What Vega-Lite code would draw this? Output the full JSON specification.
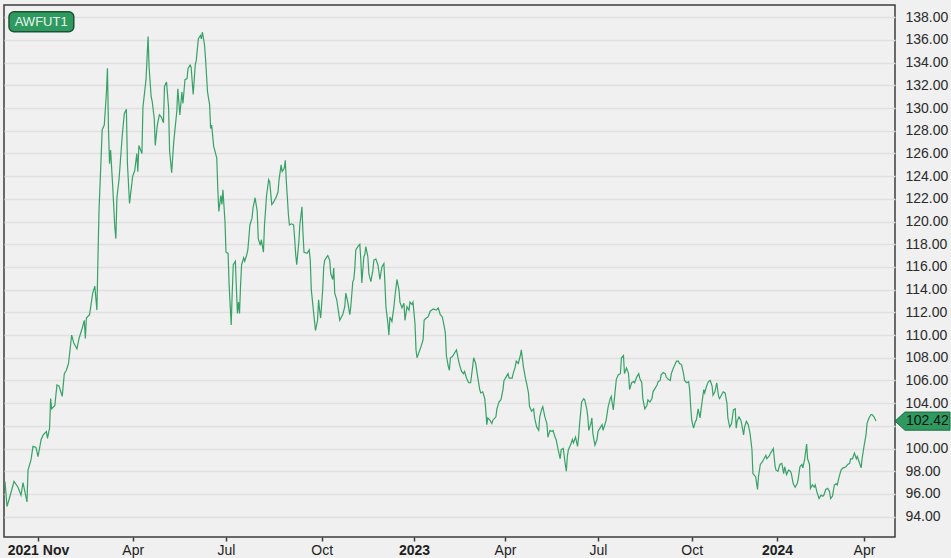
{
"$schema": "https://vega.github.io/schema/vega-lite/v6.json",
"width": 891, "height": 532,
"autosize": {"type": "none"},
"padding": {"left": 4, "top": 5, "right": 56, "bottom": 21},
"background": "#f0f0f0",
"config": {"view": {"stroke": "#3c3c3c", "strokeWidth": 1.5, "fill": "#f0f0f0"}, "font": "Liberation Sans"},
"datasets": {"prices": [
{"date":"2021-11-29","price":97.1},{"date":"2021-12-01","price":94.9},{"date":"2021-12-04","price":95.8},{"date":"2021-12-08","price":97.1},{"date":"2021-12-12","price":96.6},{"date":"2021-12-15","price":95.9},{"date":"2021-12-17","price":97.0},{"date":"2021-12-21","price":95.3},{"date":"2021-12-22","price":98.1},{"date":"2021-12-25","price":99.0},{"date":"2021-12-27","price":100.2},{"date":"2021-12-30","price":100.1},
{"date":"2022-01-01","price":99.3},{"date":"2022-01-04","price":100.8},{"date":"2022-01-06","price":101.2},{"date":"2022-01-09","price":101.5},{"date":"2022-01-10","price":100.9},{"date":"2022-01-12","price":101.8},{"date":"2022-01-13","price":104.4},{"date":"2022-01-14","price":103.5},{"date":"2022-01-17","price":103.8},{"date":"2022-01-19","price":105.6},{"date":"2022-01-21","price":105.5},{"date":"2022-01-24","price":104.6},{"date":"2022-01-26","price":106.6},{"date":"2022-01-28","price":106.9},{"date":"2022-01-30","price":107.5},
{"date":"2022-02-02","price":110.0},{"date":"2022-02-04","price":109.3},{"date":"2022-02-07","price":108.8},{"date":"2022-02-09","price":109.7},{"date":"2022-02-12","price":110.6},{"date":"2022-02-14","price":111.3},{"date":"2022-02-15","price":109.7},{"date":"2022-02-16","price":111.5},{"date":"2022-02-19","price":111.8},{"date":"2022-02-22","price":113.7},{"date":"2022-02-24","price":114.3},{"date":"2022-02-26","price":112.2},{"date":"2022-02-27","price":116.9},{"date":"2022-02-28","price":121.0},
{"date":"2022-03-02","price":125.7},{"date":"2022-03-03","price":128.1},{"date":"2022-03-05","price":128.5},{"date":"2022-03-07","price":131.3},{"date":"2022-03-08","price":133.5},{"date":"2022-03-09","price":128.1},{"date":"2022-03-10","price":125.1},{"date":"2022-03-11","price":126.3},{"date":"2022-03-13","price":123.1},{"date":"2022-03-15","price":119.5},{"date":"2022-03-16","price":118.5},{"date":"2022-03-17","price":122.1},{"date":"2022-03-19","price":123.7},{"date":"2022-03-22","price":127.5},{"date":"2022-03-24","price":129.5},{"date":"2022-03-26","price":129.9},{"date":"2022-03-27","price":125.1},{"date":"2022-03-29","price":121.6},
{"date":"2022-04-01","price":124.0},{"date":"2022-04-03","price":124.5},{"date":"2022-04-05","price":126.0},{"date":"2022-04-06","price":124.4},{"date":"2022-04-07","price":126.7},{"date":"2022-04-10","price":126.0},{"date":"2022-04-11","price":130.1},{"date":"2022-04-14","price":132.5},{"date":"2022-04-15","price":134.4},{"date":"2022-04-16","price":136.3},{"date":"2022-04-17","price":133.6},{"date":"2022-04-19","price":131.0},{"date":"2022-04-20","price":130.6},{"date":"2022-04-22","price":129.1},{"date":"2022-04-23","price":126.7},{"date":"2022-04-25","price":128.5},{"date":"2022-04-27","price":129.4},{"date":"2022-04-29","price":129.2},
{"date":"2022-05-01","price":128.7},{"date":"2022-05-02","price":131.9},{"date":"2022-05-04","price":132.3},{"date":"2022-05-06","price":130.0},{"date":"2022-05-07","price":126.2},{"date":"2022-05-09","price":124.3},{"date":"2022-05-11","price":127.0},{"date":"2022-05-12","price":127.9},{"date":"2022-05-14","price":129.7},{"date":"2022-05-15","price":131.7},{"date":"2022-05-17","price":129.4},{"date":"2022-05-19","price":131.4},{"date":"2022-05-20","price":130.4},{"date":"2022-05-22","price":132.5},{"date":"2022-05-24","price":132.6},{"date":"2022-05-25","price":133.5},{"date":"2022-05-27","price":133.8},{"date":"2022-05-28","price":133.6},{"date":"2022-05-30","price":131.2},
{"date":"2022-06-01","price":133.8},{"date":"2022-06-02","price":134.2},{"date":"2022-06-04","price":136.1},{"date":"2022-06-06","price":136.4},{"date":"2022-06-07","price":136.1},{"date":"2022-06-08","price":136.7},{"date":"2022-06-10","price":135.6},{"date":"2022-06-11","price":134.4},{"date":"2022-06-13","price":131.4},{"date":"2022-06-15","price":130.3},{"date":"2022-06-16","price":128.2},{"date":"2022-06-17","price":128.5},{"date":"2022-06-19","price":126.6},{"date":"2022-06-20","price":126.3},{"date":"2022-06-22","price":125.6},{"date":"2022-06-23","price":122.9},{"date":"2022-06-24","price":120.9},{"date":"2022-06-26","price":122.3},{"date":"2022-06-27","price":121.5},{"date":"2022-06-28","price":122.8},{"date":"2022-06-30","price":120.0},
{"date":"2022-07-01","price":117.3},{"date":"2022-07-03","price":117.2},{"date":"2022-07-04","price":114.4},{"date":"2022-07-06","price":110.9},{"date":"2022-07-07","price":113.8},{"date":"2022-07-08","price":116.2},{"date":"2022-07-10","price":116.5},{"date":"2022-07-11","price":114.1},{"date":"2022-07-12","price":111.9},{"date":"2022-07-13","price":112.9},{"date":"2022-07-14","price":111.9},{"date":"2022-07-15","price":114.4},{"date":"2022-07-16","price":116.2},{"date":"2022-07-18","price":116.8},{"date":"2022-07-19","price":116.5},{"date":"2022-07-21","price":117.1},{"date":"2022-07-22","price":117.5},{"date":"2022-07-24","price":119.7},{"date":"2022-07-26","price":120.3},{"date":"2022-07-27","price":121.2},{"date":"2022-07-29","price":122.1},{"date":"2022-07-31","price":120.9},
{"date":"2022-08-01","price":118.5},{"date":"2022-08-03","price":117.9},{"date":"2022-08-04","price":118.4},{"date":"2022-08-06","price":117.3},{"date":"2022-08-07","price":119.7},{"date":"2022-08-09","price":122.3},{"date":"2022-08-11","price":123.7},{"date":"2022-08-12","price":123.5},{"date":"2022-08-14","price":121.5},{"date":"2022-08-15","price":121.6},{"date":"2022-08-18","price":122.1},{"date":"2022-08-20","price":122.6},{"date":"2022-08-21","price":123.7},{"date":"2022-08-23","price":125.0},{"date":"2022-08-24","price":124.4},{"date":"2022-08-26","price":124.7},{"date":"2022-08-27","price":125.4},{"date":"2022-08-28","price":123.5},{"date":"2022-08-29","price":122.1},{"date":"2022-08-30","price":120.6},{"date":"2022-08-31","price":119.7},
{"date":"2022-09-02","price":119.8},{"date":"2022-09-04","price":119.7},{"date":"2022-09-05","price":118.5},{"date":"2022-09-06","price":117.1},{"date":"2022-09-07","price":116.2},{"date":"2022-09-09","price":118.2},{"date":"2022-09-10","price":119.7},{"date":"2022-09-12","price":121.3},{"date":"2022-09-13","price":119.0},{"date":"2022-09-14","price":117.3},{"date":"2022-09-17","price":117.2},{"date":"2022-09-19","price":117.5},{"date":"2022-09-20","price":116.6},{"date":"2022-09-21","price":114.0},{"date":"2022-09-23","price":112.2},{"date":"2022-09-24","price":111.3},{"date":"2022-09-25","price":110.4},{"date":"2022-09-27","price":111.3},{"date":"2022-09-28","price":113.1},{"date":"2022-09-29","price":112.2},{"date":"2022-09-30","price":111.5},
{"date":"2022-10-02","price":114.0},{"date":"2022-10-03","price":116.0},{"date":"2022-10-04","price":116.6},{"date":"2022-10-07","price":117.0},{"date":"2022-10-09","price":116.6},{"date":"2022-10-10","price":115.4},{"date":"2022-10-12","price":114.9},{"date":"2022-10-13","price":115.9},{"date":"2022-10-14","price":113.7},{"date":"2022-10-16","price":113.1},{"date":"2022-10-18","price":111.9},{"date":"2022-10-19","price":111.3},{"date":"2022-10-22","price":111.8},{"date":"2022-10-24","price":112.5},{"date":"2022-10-25","price":113.7},{"date":"2022-10-27","price":112.9},{"date":"2022-10-29","price":111.8},{"date":"2022-10-30","price":112.5},
{"date":"2022-11-01","price":114.7},{"date":"2022-11-02","price":114.9},{"date":"2022-11-03","price":115.9},{"date":"2022-11-04","price":117.5},{"date":"2022-11-06","price":117.8},{"date":"2022-11-08","price":118.0},{"date":"2022-11-09","price":116.6},{"date":"2022-11-10","price":114.6},{"date":"2022-11-12","price":116.9},{"date":"2022-11-13","price":117.1},{"date":"2022-11-14","price":117.8},{"date":"2022-11-16","price":116.9},{"date":"2022-11-17","price":115.4},{"date":"2022-11-19","price":114.7},{"date":"2022-11-21","price":115.7},{"date":"2022-11-22","price":116.6},{"date":"2022-11-24","price":116.7},{"date":"2022-11-26","price":116.2},{"date":"2022-11-28","price":114.9},{"date":"2022-11-30","price":116.0},
{"date":"2022-12-02","price":116.3},{"date":"2022-12-03","price":114.6},{"date":"2022-12-04","price":112.5},{"date":"2022-12-06","price":111.0},{"date":"2022-12-07","price":110.0},{"date":"2022-12-08","price":111.6},{"date":"2022-12-10","price":111.2},{"date":"2022-12-12","price":112.5},{"date":"2022-12-13","price":113.4},{"date":"2022-12-15","price":114.9},{"date":"2022-12-17","price":114.0},{"date":"2022-12-18","price":112.9},{"date":"2022-12-20","price":112.4},{"date":"2022-12-22","price":112.8},{"date":"2022-12-23","price":111.3},{"date":"2022-12-25","price":112.5},{"date":"2022-12-27","price":112.2},{"date":"2022-12-28","price":112.9},{"date":"2022-12-30","price":112.7},{"date":"2022-12-31","price":112.9},
{"date":"2023-01-02","price":111.0},{"date":"2023-01-03","price":108.7},{"date":"2023-01-04","price":108.0},{"date":"2023-01-06","price":108.5},{"date":"2023-01-08","price":109.0},{"date":"2023-01-10","price":109.6},{"date":"2023-01-11","price":111.3},{"date":"2023-01-13","price":111.5},{"date":"2023-01-15","price":111.6},{"date":"2023-01-17","price":112.1},{"date":"2023-01-20","price":112.3},{"date":"2023-01-23","price":112.2},{"date":"2023-01-25","price":112.4},{"date":"2023-01-27","price":111.8},{"date":"2023-01-29","price":111.6},{"date":"2023-01-31","price":110.7},
{"date":"2023-02-01","price":110.2},{"date":"2023-02-02","price":108.2},{"date":"2023-02-04","price":107.2},{"date":"2023-02-05","price":106.9},{"date":"2023-02-06","price":108.0},{"date":"2023-02-08","price":108.1},{"date":"2023-02-10","price":108.4},{"date":"2023-02-12","price":108.7},{"date":"2023-02-14","price":107.8},{"date":"2023-02-15","price":107.4},{"date":"2023-02-17","price":106.8},{"date":"2023-02-19","price":106.6},{"date":"2023-02-20","price":106.8},{"date":"2023-02-22","price":106.2},{"date":"2023-02-24","price":105.8},{"date":"2023-02-26","price":105.8},{"date":"2023-02-28","price":107.2},
{"date":"2023-03-01","price":108.0},{"date":"2023-03-03","price":107.5},{"date":"2023-03-05","price":106.3},{"date":"2023-03-07","price":105.2},{"date":"2023-03-08","price":104.9},{"date":"2023-03-10","price":105.0},{"date":"2023-03-12","price":104.4},{"date":"2023-03-13","price":103.4},{"date":"2023-03-14","price":102.1},{"date":"2023-03-15","price":102.7},{"date":"2023-03-17","price":102.5},{"date":"2023-03-19","price":102.2},{"date":"2023-03-20","price":102.5},{"date":"2023-03-23","price":102.8},{"date":"2023-03-24","price":103.5},{"date":"2023-03-26","price":104.1},{"date":"2023-03-28","price":104.3},{"date":"2023-03-30","price":105.2},{"date":"2023-03-31","price":106.0},
{"date":"2023-04-02","price":106.3},{"date":"2023-04-04","price":106.6},{"date":"2023-04-05","price":106.2},{"date":"2023-04-08","price":106.2},{"date":"2023-04-09","price":106.6},{"date":"2023-04-11","price":107.2},{"date":"2023-04-12","price":107.7},{"date":"2023-04-14","price":107.5},{"date":"2023-04-16","price":108.2},{"date":"2023-04-17","price":108.7},{"date":"2023-04-19","price":107.2},{"date":"2023-04-21","price":106.2},{"date":"2023-04-22","price":105.8},{"date":"2023-04-24","price":104.9},{"date":"2023-04-25","price":103.7},{"date":"2023-04-27","price":103.3},{"date":"2023-04-29","price":103.5},{"date":"2023-04-30","price":102.7},
{"date":"2023-05-02","price":101.9},{"date":"2023-05-04","price":101.6},{"date":"2023-05-05","price":102.8},{"date":"2023-05-07","price":103.5},{"date":"2023-05-08","price":103.7},{"date":"2023-05-10","price":102.8},{"date":"2023-05-12","price":102.2},{"date":"2023-05-13","price":101.0},{"date":"2023-05-15","price":101.6},{"date":"2023-05-17","price":101.5},{"date":"2023-05-18","price":101.6},{"date":"2023-05-20","price":101.0},{"date":"2023-05-21","price":100.8},{"date":"2023-05-23","price":99.9},{"date":"2023-05-25","price":99.1},{"date":"2023-05-26","price":99.9},{"date":"2023-05-28","price":100.0},{"date":"2023-05-30","price":98.6},{"date":"2023-05-31","price":98.0},
{"date":"2023-06-01","price":99.3},{"date":"2023-06-02","price":99.9},{"date":"2023-06-04","price":100.3},{"date":"2023-06-06","price":100.8},{"date":"2023-06-07","price":100.5},{"date":"2023-06-09","price":101.0},{"date":"2023-06-11","price":100.2},{"date":"2023-06-12","price":101.0},{"date":"2023-06-13","price":102.2},{"date":"2023-06-15","price":104.1},{"date":"2023-06-17","price":104.4},{"date":"2023-06-18","price":104.3},{"date":"2023-06-20","price":103.5},{"date":"2023-06-21","price":102.8},{"date":"2023-06-22","price":101.6},{"date":"2023-06-24","price":102.2},{"date":"2023-06-25","price":102.7},{"date":"2023-06-26","price":101.3},{"date":"2023-06-28","price":100.3},{"date":"2023-06-30","price":100.8},
{"date":"2023-07-01","price":101.5},{"date":"2023-07-03","price":101.8},{"date":"2023-07-05","price":102.1},{"date":"2023-07-06","price":101.6},{"date":"2023-07-08","price":102.2},{"date":"2023-07-09","price":102.5},{"date":"2023-07-11","price":103.7},{"date":"2023-07-13","price":104.4},{"date":"2023-07-14","price":104.6},{"date":"2023-07-16","price":103.4},{"date":"2023-07-18","price":105.2},{"date":"2023-07-19","price":106.1},{"date":"2023-07-21","price":106.5},{"date":"2023-07-23","price":106.6},{"date":"2023-07-24","price":108.0},{"date":"2023-07-26","price":108.2},{"date":"2023-07-27","price":106.6},{"date":"2023-07-29","price":107.1},{"date":"2023-07-31","price":106.6},
{"date":"2023-08-01","price":105.2},{"date":"2023-08-03","price":105.8},{"date":"2023-08-05","price":105.9},{"date":"2023-08-06","price":105.8},{"date":"2023-08-08","price":106.3},{"date":"2023-08-10","price":106.6},{"date":"2023-08-11","price":106.2},{"date":"2023-08-13","price":105.8},{"date":"2023-08-14","price":104.4},{"date":"2023-08-16","price":103.5},{"date":"2023-08-18","price":103.8},{"date":"2023-08-19","price":104.3},{"date":"2023-08-21","price":104.1},{"date":"2023-08-23","price":104.4},{"date":"2023-08-24","price":105.0},{"date":"2023-08-26","price":105.3},{"date":"2023-08-28","price":105.6},{"date":"2023-08-29","price":105.9},{"date":"2023-08-31","price":106.0},
{"date":"2023-09-01","price":106.5},{"date":"2023-09-03","price":106.7},{"date":"2023-09-05","price":106.6},{"date":"2023-09-06","price":106.3},{"date":"2023-09-08","price":106.1},{"date":"2023-09-10","price":106.0},{"date":"2023-09-11","price":106.6},{"date":"2023-09-13","price":107.1},{"date":"2023-09-15","price":107.5},{"date":"2023-09-16","price":107.7},{"date":"2023-09-18","price":107.7},{"date":"2023-09-19","price":107.5},{"date":"2023-09-21","price":107.4},{"date":"2023-09-23","price":106.6},{"date":"2023-09-24","price":106.0},{"date":"2023-09-26","price":105.8},{"date":"2023-09-28","price":105.9},{"date":"2023-09-29","price":105.2},{"date":"2023-09-30","price":103.7},
{"date":"2023-10-01","price":102.5},{"date":"2023-10-03","price":101.8},{"date":"2023-10-05","price":102.4},{"date":"2023-10-06","price":102.5},{"date":"2023-10-08","price":103.5},{"date":"2023-10-10","price":102.7},{"date":"2023-10-12","price":104.0},{"date":"2023-10-14","price":105.2},{"date":"2023-10-15","price":104.9},{"date":"2023-10-17","price":105.5},{"date":"2023-10-19","price":105.9},{"date":"2023-10-21","price":106.0},{"date":"2023-10-23","price":105.5},{"date":"2023-10-24","price":104.7},{"date":"2023-10-26","price":105.0},{"date":"2023-10-28","price":105.8},{"date":"2023-10-30","price":104.6},{"date":"2023-10-31","price":104.4},
{"date":"2023-11-02","price":104.7},{"date":"2023-11-04","price":105.0},{"date":"2023-11-06","price":104.9},{"date":"2023-11-08","price":104.0},{"date":"2023-11-09","price":102.7},{"date":"2023-11-11","price":101.9},{"date":"2023-11-13","price":102.2},{"date":"2023-11-15","price":103.4},{"date":"2023-11-17","price":103.5},{"date":"2023-11-18","price":101.8},{"date":"2023-11-19","price":102.4},{"date":"2023-11-21","price":102.8},{"date":"2023-11-23","price":102.5},{"date":"2023-11-24","price":102.1},{"date":"2023-11-26","price":101.2},{"date":"2023-11-27","price":101.9},{"date":"2023-11-29","price":102.4},
{"date":"2023-12-01","price":102.1},{"date":"2023-12-03","price":101.3},{"date":"2023-12-05","price":99.9},{"date":"2023-12-06","price":97.8},{"date":"2023-12-07","price":97.7},{"date":"2023-12-09","price":97.5},{"date":"2023-12-11","price":96.4},{"date":"2023-12-12","price":97.5},{"date":"2023-12-14","price":98.6},{"date":"2023-12-16","price":98.8},{"date":"2023-12-18","price":99.1},{"date":"2023-12-20","price":99.4},{"date":"2023-12-21","price":99.1},{"date":"2023-12-24","price":99.4},{"date":"2023-12-25","price":99.6},{"date":"2023-12-26","price":99.7},{"date":"2023-12-28","price":100.0},{"date":"2023-12-30","price":98.4},{"date":"2023-12-31","price":98.1},
{"date":"2024-01-02","price":98.0},{"date":"2024-01-04","price":98.6},{"date":"2024-01-06","price":98.7},{"date":"2024-01-08","price":97.8},{"date":"2024-01-09","price":98.4},{"date":"2024-01-11","price":97.7},{"date":"2024-01-13","price":98.1},{"date":"2024-01-15","price":98.0},{"date":"2024-01-16","price":97.8},{"date":"2024-01-18","price":96.9},{"date":"2024-01-20","price":96.6},{"date":"2024-01-22","price":96.9},{"date":"2024-01-23","price":97.2},{"date":"2024-01-25","price":98.4},{"date":"2024-01-27","price":98.6},{"date":"2024-01-28","price":98.3},{"date":"2024-01-30","price":99.1},
{"date":"2024-02-01","price":100.4},{"date":"2024-02-02","price":99.1},{"date":"2024-02-04","price":98.6},{"date":"2024-02-05","price":96.5},{"date":"2024-02-07","price":96.8},{"date":"2024-02-09","price":96.6},{"date":"2024-02-10","price":96.8},{"date":"2024-02-12","price":96.1},{"date":"2024-02-14","price":95.6},{"date":"2024-02-16","price":95.9},{"date":"2024-02-18","price":95.8},{"date":"2024-02-19","price":95.9},{"date":"2024-02-21","price":96.4},{"date":"2024-02-23","price":96.5},{"date":"2024-02-25","price":96.2},{"date":"2024-02-26","price":95.6},{"date":"2024-02-28","price":95.8},
{"date":"2024-03-01","price":96.8},{"date":"2024-03-03","price":96.9},{"date":"2024-03-04","price":96.8},{"date":"2024-03-06","price":97.5},{"date":"2024-03-08","price":98.1},{"date":"2024-03-10","price":98.3},{"date":"2024-03-11","price":98.3},{"date":"2024-03-13","price":98.4},{"date":"2024-03-15","price":98.6},{"date":"2024-03-17","price":98.7},{"date":"2024-03-18","price":99.1},{"date":"2024-03-20","price":99.1},{"date":"2024-03-22","price":99.6},{"date":"2024-03-24","price":99.1},{"date":"2024-03-25","price":99.3},{"date":"2024-03-27","price":98.8},{"date":"2024-03-29","price":98.3},{"date":"2024-03-30","price":99.1},
{"date":"2024-04-01","price":100.2},{"date":"2024-04-03","price":101.2},{"date":"2024-04-04","price":102.2},{"date":"2024-04-06","price":102.7},{"date":"2024-04-08","price":103.0},{"date":"2024-04-09","price":103.0},{"date":"2024-04-11","price":102.8},{"date":"2024-04-13","price":102.42}
]},
"layer": [
{
"data": {"name": "prices", "format": {"parse": {"date": "date"}}},
"mark": {"type": "line", "color": "#37a267", "strokeWidth": 1.2},
"encoding": {
"x": {"field": "date", "type": "quantitative",
"scale": {"type": "linear", "nice": false, "zero": false,
"domain": [1638057600000, 1640995200000, 1648771200000, 1656633600000, 1664582400000, 1672531200000, 1680307200000, 1688169600000, 1696118400000, 1704067200000, 1711929600000, 1714608000000],
"range": [0, 34, 128.7, 222, 317.7, 410, 501, 594, 687.7, 773, 860, 891]},
"axis": {"title": null, "grid": false, "domain": false, "ticks": true, "tickSize": 4, "tickWidth": 1.5, "tickColor": "#3c3c3c", "tickCount": 20,
"values": [1640995200000, 1648771200000, 1656633600000, 1664582400000, 1672531200000, 1680307200000, 1688169600000, 1696118400000, 1704067200000, 1711929600000],
"labelExpr": "utcmonth(datum.value)==0 ? (utcyear(datum.value)==2022 ? '2021 Nov' : '' + utcyear(datum.value)) : (utcmonth(datum.value)==3 ? 'Apr' : (utcmonth(datum.value)==6 ? 'Jul' : 'Oct'))",
"labelFontSize": 14, "labelColor": "#1e1e1e", "labelPadding": 2, "labelFlush": false, "labelOverlap": false, "labelBound": false,
"labelFontWeight": {"condition": {"test": "utcmonth(datum.value)==0", "value": "bold"}, "value": "normal"}}},
"y": {"field": "price", "type": "quantitative",
"scale": {"domain": [92.21, 139.08], "nice": false, "zero": false},
"axis": {"title": null, "orient": "right", "tickCount": 40, "values": [94,96,98,100,102,104,106,108,110,112,114,116,118,120,122,124,126,128,130,132,134,136,138],
"format": ".2f", "grid": true, "gridColor": "#e0e0e0", "gridWidth": 1.5, "domain": false, "ticks": false, "tickSize": 0,
"labelAlign": "left", "labelPadding": 10, "labelFontSize": 14, "labelColor": "#2a2a2a", "labelOverlap": false, "labelBound": false}}
}
},
{
"data": {"values": [{}]},
"mark": {"type": "rect", "fill": "#2f9a5f", "stroke": "#1c5234", "strokeWidth": 1.5, "cornerRadius": 5},
"encoding": {
"x": {"datum": 1638489600000, "type": "quantitative"},
"x2": {"datum": 1643932800000},
"y": {"datum": 138.49, "type": "quantitative"},
"y2": {"datum": 136.73}
}
},
{
"data": {"values": [{}]},
"mark": {"type": "text", "text": "AWFUT1", "fontSize": 13, "color": "#e8f5ec", "align": "center", "baseline": "middle"},
"encoding": {
"x": {"datum": 1641254400000, "type": "quantitative"},
"y": {"datum": 137.61, "type": "quantitative"}
}
},
{
"data": {"values": [{}]},
"mark": {"type": "point", "shape": "M-1,0L-0.64,-0.33L1,-0.33L1,0.33L-0.64,0.33Z", "size": 3025, "filled": true, "fill": "#2f9a5f", "stroke": "#1c6b3e", "strokeWidth": 1, "opacity": 1},
"encoding": {
"x": {"datum": 1716984000000, "type": "quantitative"},
"y": {"datum": 102.42, "type": "quantitative"}
}
},
{
"data": {"values": [{}]},
"mark": {"type": "text", "text": "102.42", "fontSize": 14, "color": "#111111", "align": "left", "baseline": "middle"},
"encoding": {
"x": {"datum": 1715558400000, "type": "quantitative"},
"y": {"datum": 102.42, "type": "quantitative"}
}
}
]
}
